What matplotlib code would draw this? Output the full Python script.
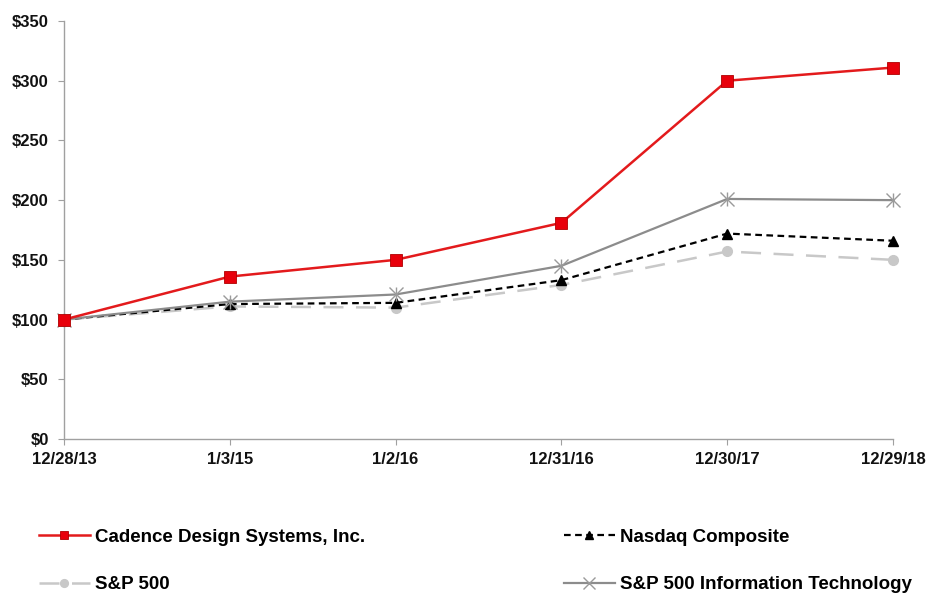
import matplotlib.pyplot as plt
from matplotlib.ticker import FuncFormatter

# Cumulative total return values
dates = ['12/28/13', '1/3/15', '1/2/16', '12/31/16', '12/30/17', '12/29/18']
cadence = [100, 136, 150, 181, 300, 311]
nasdaq = [100, 113, 114, 133, 172, 166]
sp500 = [100, 111, 110, 129, 157, 150]
sp500_it = [100, 115, 121, 145, 201, 200]

plt.rcParams['font.family'] = ['Liberation Sans', 'DejaVu Sans']
plt.rcParams['font.weight'] = 'bold'

fig = plt.figure(figsize=(9.43, 5.96), dpi=100)
ax = fig.add_axes([64 / 943, 1 - 439 / 596, (893 - 64) / 943, (439 - 21) / 596])

x = list(range(len(dates)))

l_cad, = ax.plot(x, cadence, color='#e31a1c', linewidth=1.8, marker='s', markersize=8,
                 markerfacecolor='#e8000b', markeredgecolor='#b00000', markeredgewidth=0.6,
                 label='Cadence Design Systems, Inc.', zorder=5, clip_on=False)
l_sp, = ax.plot(x, sp500, color='#c8c8c8', linewidth=1.8, linestyle=(0, (8, 5)), marker='o',
                markersize=7, markerfacecolor='#c8c8c8', markeredgecolor='#c8c8c8',
                label='S&P 500', zorder=2, clip_on=False)
l_nas, = ax.plot(x, nasdaq, color='black', linewidth=1.6, linestyle=(0, (3, 2)), marker='^',
                 markersize=7, markerfacecolor='black', label='Nasdaq Composite', zorder=3,
                 clip_on=False)
l_it, = ax.plot(x, sp500_it, color='#8c8c8c', linewidth=1.6, marker='x', markersize=10,
                markeredgecolor='#9a9a9a', markeredgewidth=1.0,
                label='S&P 500 Information Technology', zorder=4, clip_on=False)
# extra vertical stroke so the marker reads as an asterisk
ax.plot(x, sp500_it, linestyle='none', marker='|', markersize=10,
        markeredgecolor='#9a9a9a', markeredgewidth=1.0, zorder=4, clip_on=False)

ax.set_xlim(0, len(dates) - 1)
ax.set_ylim(0, 350)
ax.set_yticks(range(0, 351, 50))
ax.yaxis.set_major_formatter(FuncFormatter(lambda v, p: f'${v:.0f}'))
ax.set_xticks(x)
ax.set_xticklabels(dates)

for side in ['top', 'right']:
    ax.spines[side].set_visible(False)
for side in ['left', 'bottom']:
    ax.spines[side].set_color('#a0a0a0')
    ax.spines[side].set_linewidth(1.0)
ax.tick_params(axis='both', direction='out', length=4, color='#a0a0a0',
               labelsize=12, labelcolor='#111111')
ax.tick_params(axis='y', pad=7)
ax.tick_params(axis='x', pad=5)

fig.legend(handles=[l_cad, l_sp, l_nas, l_it], loc='upper left',
           bbox_to_anchor=(22 / 943, 1 - 512 / 596), ncol=2, frameon=False,
           fontsize=13.5, columnspacing=10.6, labelspacing=1.6, handlelength=2.7,
           handletextpad=0.3, markerscale=0.8)

fig.savefig('out.png', dpi=100)
